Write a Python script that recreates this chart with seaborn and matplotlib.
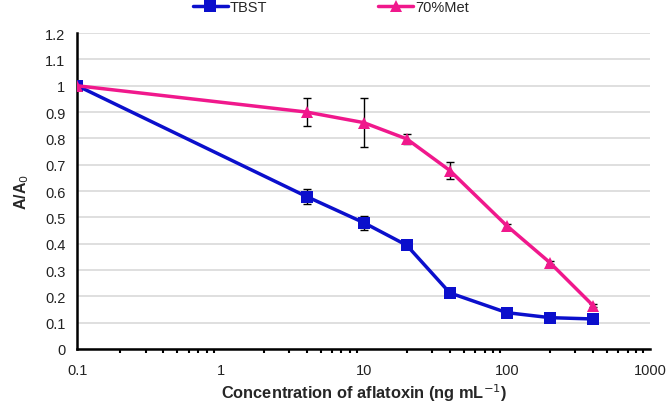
import numpy as np
import pandas as pd
import matplotlib
matplotlib.use("Agg")
import matplotlib.pyplot as plt
from matplotlib.ticker import LogLocator, FixedLocator, NullFormatter
import seaborn as sns

# concentrations of aflatoxin (ng/mL)
conc = [0.1, 4, 10, 20, 40, 100, 200, 400]

# A/A0 readings and their error bars
tbst = [1.0, 0.579, 0.480, 0.394, 0.213, 0.138, 0.119, 0.114]
tbst_err = [0.0, 0.030, 0.027, 0.012, 0.008, 0.006, 0.005, 0.005]
met70 = [1.0, 0.900, 0.860, 0.798, 0.678, 0.468, 0.328, 0.165]
met70_err = [0.0, 0.053, 0.093, 0.020, 0.032, 0.008, 0.006, 0.006]

series = ["TBST", "70%Met"]
colors = {"TBST": "#0b0fcc", "70%Met": "#f0188c"}

df = pd.concat([
    pd.DataFrame({"conc": conc, "ratio": tbst, "err": tbst_err, "buffer": "TBST"}),
    pd.DataFrame({"conc": conc, "ratio": met70, "err": met70_err, "buffer": "70%Met"}),
])

sns.set_theme(style="white")
plt.rcParams["font.family"] = ["Liberation Sans", "DejaVu Sans"]

fig = plt.figure(figsize=(6.66, 4.06), dpi=100)
ax = fig.add_axes([0.116, 0.138, 0.860, 0.778])

# error bars first, so the lines sit on top
for name in series:
    sub = df[df["buffer"] == name]
    ax.errorbar(sub["conc"], sub["ratio"], yerr=sub["err"], fmt="none",
                ecolor="black", elinewidth=1.0, capsize=3, capthick=1.0, zorder=2)

sns.lineplot(data=df, x="conc", y="ratio", hue="buffer", style="buffer",
             hue_order=series, style_order=series, palette=colors,
             markers={"TBST": "s", "70%Met": "^"}, dashes=False,
             markersize=8, linewidth=2.5, markeredgewidth=0,
             ax=ax, zorder=3, legend=True)

ax.set_xscale("log")
ax.set_xlim(0.1, 1000)
ax.set_ylim(0, 1.2)
ax.set_yticks(np.arange(0, 1.21, 0.1))
ax.set_yticklabels(["0", "0.1", "0.2", "0.3", "0.4", "0.5", "0.6", "0.7",
                    "0.8", "0.9", "1", "1.1", "1.2"])
ax.xaxis.set_major_locator(FixedLocator([0.1, 1, 10, 100, 1000]))
ax.set_xticklabels(["0.1", "1", "10", "100", "1000"])
ax.xaxis.set_minor_locator(LogLocator(base=10, subs=np.arange(2, 10)))
ax.xaxis.set_minor_formatter(NullFormatter())

ax.yaxis.grid(True, color="#d9d9d9", linewidth=1.2)
ax.set_axisbelow(True)
for s in ["top", "right"]:
    ax.spines[s].set_visible(False)
for s in ["left", "bottom"]:
    ax.spines[s].set_color("black")
    ax.spines[s].set_linewidth(1.8)

ax.tick_params(axis="both", which="major", direction="out", length=5, width=1.5,
               color="black", labelsize=10.5, labelcolor="#222222")
ax.tick_params(axis="x", which="minor", direction="out", length=3, width=1.5,
               color="black", bottom=True)
ax.tick_params(axis="x", pad=5)

ax.set_xlabel("Concentration of aflatoxin (ng mL$^{-1}$)", fontsize=11.8,
              fontweight="bold", labelpad=3)
ax.set_ylabel("A/A$_0$", fontsize=11.5, fontweight="bold", labelpad=10)

handles, labels = ax.get_legend_handles_labels()
ax.get_legend().remove()
fig.legend(handles, labels, loc="upper center", bbox_to_anchor=(0.497, 1.03),
           ncol=2, frameon=False, fontsize=10.5, columnspacing=7.6,
           handlelength=2.4, handletextpad=0.15)

fig.savefig("out.png", dpi=100)
